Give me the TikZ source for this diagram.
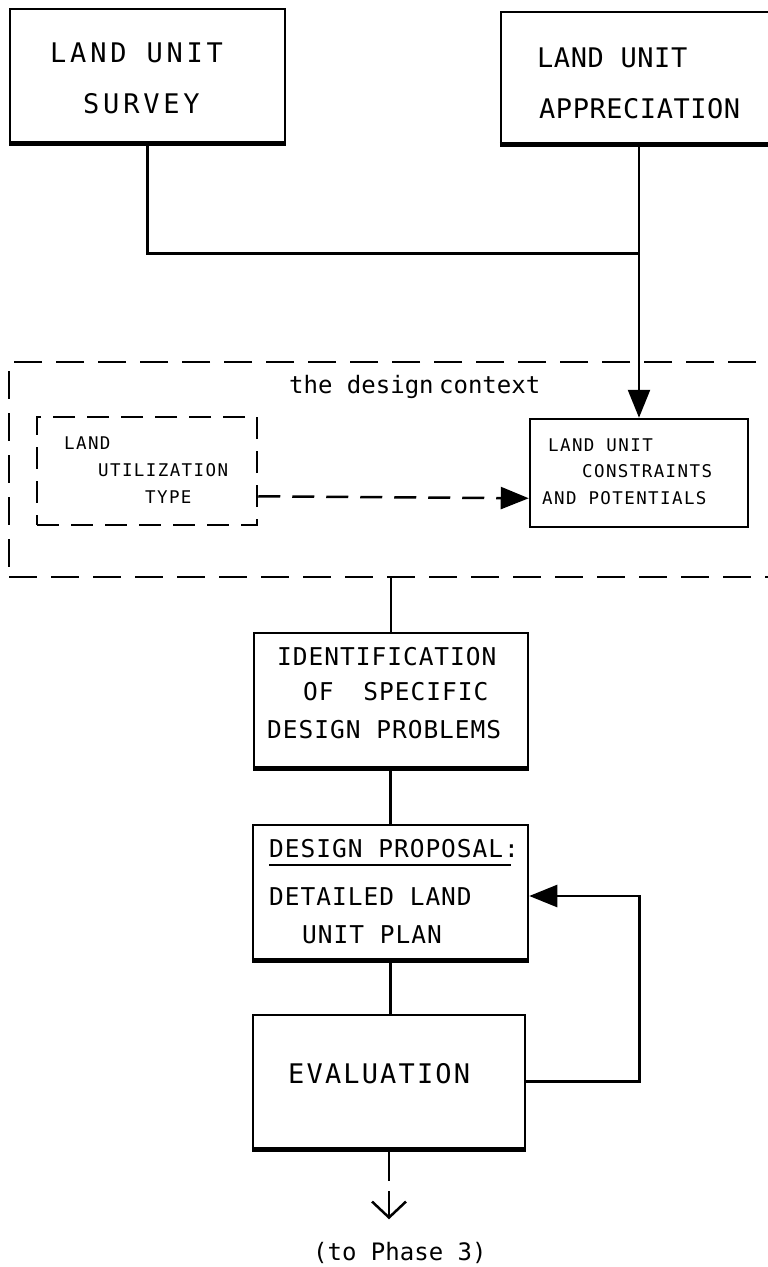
\documentclass[tikz,border=0pt]{standalone}
\usepackage{fontspec}
\usetikzlibrary{arrows.meta,calc}
\newfontfamily\plotfont{DejaVu Sans Mono}
\tikzset{
  box/.style={draw, line width=2.5pt, inner sep=0pt},
  dbox/.style={box, dash pattern=on 22pt off 12pt},
  ctxbox/.style={box, dash pattern=on 28pt off 14pt},
  base/.style={inner sep=0pt, anchor=base west},
  bigtxt/.style={base, font=\plotfont\fontsize{27}{27}\selectfont\addfontfeatures{LetterSpace=8}},
  widetxt/.style={base, font=\plotfont\fontsize{27}{27}\selectfont\addfontfeatures{LetterSpace=14}},
  narrowtxt/.style={base, font=\plotfont\fontsize{27}{27}\selectfont\addfontfeatures{LetterSpace=2}},
  midtxt/.style={base, font=\plotfont\fontsize{24.5}{24.5}\selectfont\addfontfeatures{LetterSpace=4}},
  lowtxt/.style={base, font=\plotfont\fontsize{24}{24}\selectfont},
  smalltxt/.style={base, font=\plotfont\fontsize{17.5}{17.5}\selectfont\addfontfeatures{LetterSpace=8}},
  link/.style={line width=2.5pt},
  tip/.style={-{Triangle[length=28pt,width=22pt]}},
  heavy/.style={line width=5pt}
}
\begin{document}
\begin{tikzpicture}[x=1pt,y=-1pt]
\useasboundingbox (0,0) rectangle (768,1267);

% boxes
\node[box, minimum width=275pt, minimum height=133pt] (survey) at (147.5,75.5) {};
\node[box, minimum width=289pt, minimum height=131pt] (appr) at (645.5,77.5) {};
\node[ctxbox, minimum width=791pt, minimum height=215pt] (ctx) at (404.5,469.5) {};
\node[dbox, minimum width=220pt, minimum height=108pt] (lut) at (147,471) {};
\node[box, minimum width=218pt, minimum height=108pt] (luc) at (639,473) {};
\node[box, minimum width=274pt, minimum height=134pt] (ident) at (391,700) {};
\node[box, minimum width=275pt, minimum height=134pt] (dp) at (390.5,892) {};
\node[box, minimum width=272pt, minimum height=133pt] (eval) at (389,1081.5) {};

% heavier bottom edges
\foreach \b in {survey,appr,ident,dp,eval}
  \draw[heavy] (\b.south west) -- (\b.south east);

% texts
\node[widetxt] (s1) at (50,62) {LAND UNIT};
\node[widetxt] (s2) at (83,113) {SURVEY};
\node[narrowtxt] (a1) at (537,67) {LAND UNIT};
\node[narrowtxt] (a2) at (539,118) {APPRECIATION};
\node[lowtxt] (c0) at (289,393) {the design\kern-9pt\ context};
\node[smalltxt] (l1) at (64,449) {LAND};
\node[smalltxt] (l2) at (98,476) {UTILIZATION};
\node[smalltxt] (l3) at (145,503) {TYPE};
\node[smalltxt] (u1) at (548,451) {LAND UNIT};
\node[smalltxt] (u2) at (582,477) {CONSTRAINTS};
\node[smalltxt] (u3) at (542,504) {AND POTENTIALS};
\node[midtxt] (i1) at (277,665) {IDENTIFICATION};
\node[midtxt] (i2) at (303,700) {OF\hspace{14pt} SPECIFIC};
\node[midtxt] (i3) at (267,738) {DESIGN PROBLEMS};
\node[midtxt] (d1) at (269,857) {DESIGN PROPOSAL:};
\draw[line width=2.5pt] (269,865) -- (511,865);
\node[midtxt] (d2) at (269,905) {DETAILED LAND};
\node[midtxt] (d3) at (302,943) {UNIT PLAN};
\node[bigtxt] (e1) at (288,1083) {EVALUATION};
\node[lowtxt] (p1) at (313,1260) {(to Phase 3)};

% connectors
\coordinate (join) at (appr.south -| luc.north);
\draw[link] (survey.south) |- ($(join)+(0,109)$);
\draw[link, tip] (join) -- (luc.north);
\draw[link, tip, dash pattern=on 22pt off 12pt] ($(lut.south east)+(0,-30)$) -- ($(luc.south west)+(0,-30)$);
\draw[link] (ident.north |- ctx.south) -- (ident.north);
\draw[link] (ident.south) -- (dp.south |- ident.south) -- (dp.north);
\draw[link] (dp.south) -- (dp.south |- eval.north);
\draw[link, tip] (eval.east) -- ++(113,0) |- ($(dp.east)+(0,4)$);
\coordinate (out) at ($(eval.south)+(0,32)$);
\coordinate (outa) at ($(eval.south)+(0,42)$);
\coordinate (outb) at ($(eval.south)+(0,70)$);
\draw[link] (eval.south) -- (out);
\draw[link, -{Straight Barb[length=16pt,width=34pt]}] (outa) -- (outb);
\end{tikzpicture}
\end{document}
